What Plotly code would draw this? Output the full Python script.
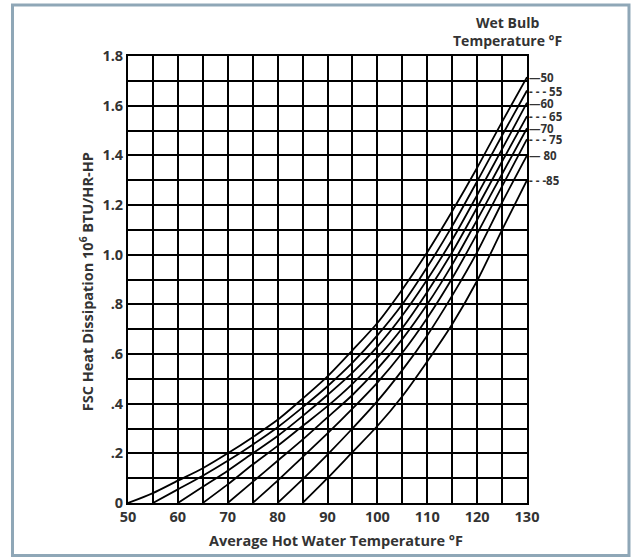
import plotly.graph_objects as go

# ---- data ----
hot_water_temps = [50, 55, 60, 65, 70, 75, 80, 85, 90, 95, 100, 105, 110, 115, 120, 125, 130]
wet_bulb = [50, 55, 60, 65, 70, 75, 80, 85]

wb50 = [0, 0.04, 0.09, 0.14, 0.2, 0.265, 0.335, 0.42, 0.51, 0.615, 0.725, 0.86, 1.01, 1.175, 1.35, 1.535, 1.715]
wb55 = [0, 0.055, 0.11, 0.17, 0.235, 0.305, 0.385, 0.47, 0.565, 0.675, 0.80, 0.95, 1.115, 1.295, 1.48, 1.661]
wb60 = [0, 0.065, 0.13, 0.2, 0.27, 0.35, 0.435, 0.525, 0.63, 0.755, 0.90, 1.06, 1.24, 1.425, 1.612]
wb65 = [0, 0.075, 0.155, 0.23, 0.31, 0.39, 0.48, 0.585, 0.705, 0.85, 1.01, 1.19, 1.375, 1.558]
wb70 = [0, 0.085, 0.17, 0.255, 0.345, 0.435, 0.54, 0.66, 0.80, 0.96, 1.14, 1.325, 1.509]
wb75 = [0, 0.09, 0.185, 0.28, 0.38, 0.485, 0.605, 0.745, 0.905, 1.085, 1.275, 1.465]
wb80 = [0, 0.095, 0.195, 0.30, 0.41, 0.535, 0.675, 0.835, 1.01, 1.21, 1.40]
wb85 = [0, 0.10, 0.205, 0.31, 0.43, 0.57, 0.72, 0.895, 1.10, 1.30]

series = [wb50, wb55, wb60, wb65, wb70, wb75, wb80, wb85]
curve_labels = ["\u201450", "- - - 55", "\u201460", "- - - 65", "\u201470", "- - - 75", "\u2014 80", "- - -85"]

x_tick_vals = [50, 60, 70, 80, 90, 100, 110, 120, 130]
y_tick_vals = [0, 0.2, 0.4, 0.6, 0.8, 1.0, 1.2, 1.4, 1.6, 1.8]
y_tick_text = ["0", ".2", ".4", ".6", ".8", "1.0", "1.2", "1.4", "1.6", "1.8"]

FONT = "Open Sans"
TXT = "#333333"
W = "bold"

fig = go.Figure()
for wb, vals in zip(wet_bulb, series):
    xs = hot_water_temps[hot_water_temps.index(wb):]
    fig.add_trace(go.Scatter(
        x=xs, y=vals, mode="lines",
        line=dict(color="black", width=1.8, shape="spline", smoothing=0.8),
        showlegend=False, hoverinfo="skip"))

annotations = []
for vals, lab in zip(series, curve_labels):
    annotations.append(dict(
        x=1, xref="paper", y=vals[-1], yref="y", text=lab, showarrow=False,
        xanchor="left", yanchor="middle", xshift=0, height=12, valign="middle",
        font=dict(family=FONT, size=11.5, color=TXT, weight=W)))

annotations.append(dict(
    x=0.95, xref="paper", y=1.054, yref="paper",
    text="Wet Bulb<br>Temperature \u00b0F", showarrow=False,
    xanchor="center", yanchor="middle", align="center",
    font=dict(family=FONT, size=14, color=TXT, weight=W)))
annotations.append(dict(
    x=0.521, xref="paper", y=-0.085, yref="paper",
    text="Average Hot Water Temperature \u00b0F", showarrow=False,
    xanchor="center", yanchor="middle",
    font=dict(family=FONT, size=14.5, color=TXT, weight=W)))
annotations.append(dict(
    x=-0.105, xref="paper", y=0.494, yref="paper",
    text="FSC Heat Dissipation 10<sup>6</sup> BTU/HR-HP", showarrow=False,
    textangle=-90, xanchor="center", yanchor="middle",
    font=dict(family=FONT, size=14.5, color=TXT, weight=W)))

fig.update_layout(
    width=634, height=560,
    paper_bgcolor="white", plot_bgcolor="white",
    margin=dict(l=128, r=107, t=56, b=57),
    font=dict(family=FONT, size=14, color=TXT, weight=W),
    annotations=annotations,
    shapes=[dict(type="rect", xref="paper", yref="paper",
                 x0=-0.2895, x1=1.2556, y0=-0.1175, y1=1.1141,
                 line=dict(color="#8fa7b7", width=3), fillcolor="rgba(0,0,0,0)",
                 layer="above")],
)
fig.update_xaxes(
    range=[50, 130], tickvals=x_tick_vals, ticks="",
    showgrid=True, gridcolor="black", gridwidth=2,
    minor=dict(dtick=5, tick0=50, showgrid=True, gridcolor="black", gridwidth=2),
    showline=True, mirror=True, linecolor="black", linewidth=2, zeroline=False,
    tickfont=dict(family=FONT, size=14.5, color=TXT, weight=W))
fig.update_yaxes(
    range=[0, 1.8], tickvals=y_tick_vals, ticktext=y_tick_text, ticks="",
    showgrid=True, gridcolor="black", gridwidth=2,
    minor=dict(dtick=0.1, tick0=0, showgrid=True, gridcolor="black", gridwidth=2),
    showline=True, mirror=True, linecolor="black", linewidth=2, zeroline=False,
    tickfont=dict(family=FONT, size=14.5, color=TXT, weight=W))

fig.write_html("out.html", config={"displayModeBar": False},
               post_script="document.body.style.margin='0';")
